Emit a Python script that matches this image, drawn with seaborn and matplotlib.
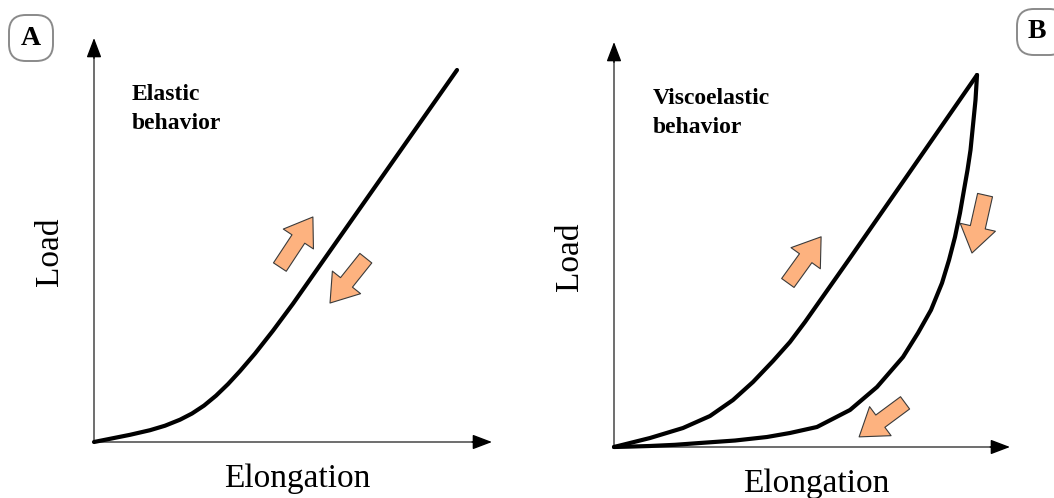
import numpy as np
import pandas as pd
import seaborn as sns
import matplotlib
matplotlib.use("Agg")
import matplotlib.pyplot as plt
from matplotlib.patches import FancyArrowPatch, FancyBboxPatch

# ---- curve data (elongation, load) in arbitrary units 0..100 ----
elastic_x = [0, 9.05, 14.07, 17.84, 21.61, 24.62, 27.64, 30.65, 33.67, 36.68, 40.45, 44.97, 50.00, 70.60, 91.21]
elastic_y = [0, 1.78, 2.92, 4.03, 5.52, 7.05, 9.01, 11.46, 14.33, 17.55, 21.88, 27.55, 34.23, 63.14, 92.08]

loading_x = [0, 9.09, 17.42, 24.24, 30.05, 35.10, 40.15, 44.44, 48.23, 59.60, 73.99, 91.67]
loading_y = [0, 2.22, 4.69, 7.65, 11.60, 16.05, 21.23, 25.93, 30.86, 46.67, 66.91, 91.85]

unloading_x = [91.67, 91.29, 90.66, 90.03, 89.27, 88.38, 87.37, 86.11, 84.60, 82.83, 80.05, 76.77,
               72.98, 66.41, 59.60, 51.26, 44.44, 38.64, 30.56, 21.72, 15.40, 9.09, 4.04, 0]
unloading_y = [91.85, 85.68, 79.51, 73.33, 68.40, 63.46, 57.78, 51.85, 46.17, 40.49, 33.83, 28.15,
               22.22, 14.81, 9.14, 4.94, 3.46, 2.47, 1.60, 0.99, 0.54, 0.25, 0.10, 0]

# direction arrows: (tail_x, tail_y, tip_x, tip_y)
arrows_a = [(46.7, 43.3, 55.0, 55.7), (68.3, 45.5, 59.3, 34.4)]
arrows_b = [(43.9, 40.5, 52.3, 51.9), (93.7, 62.2, 90.4, 47.9), (73.5, 10.9, 61.9, 2.5)]

panel_titles = ["Elastic", "Viscoelastic"]
panel_letters = ["A", "B"]
x_label = "Elongation"
y_label = "Load"

sns.set_theme(style="white")
plt.rcParams["font.family"] = ["Liberation Serif", "DejaVu Serif"]
plt.rcParams["text.color"] = "black"

W, H = 1054, 498
fig = plt.figure(figsize=(W / 100, H / 100), dpi=100)


def frac_rect(left, top, right, bottom):
    """pixel box (top-left origin) -> figure fraction [l, b, w, h]"""
    return [left / W, 1 - bottom / H, (right - left) / W, (bottom - top) / H]


ax_a = fig.add_axes(frac_rect(94, 38, 492, 442))
ax_b = fig.add_axes(frac_rect(614, 42, 1010, 447))

ARROW_FILL = "#FDB27F"
ARROW_EDGE = "#3a3a3a"


def setup_axes(ax):
    ax.set_xlim(0, 100)
    ax.set_ylim(0, 100)
    ax.axis("off")
    # axis shafts (thin grey) with solid black heads
    ax.plot([0, 97], [0, 0], color="#555555", lw=1.2, clip_on=False, solid_capstyle="butt")
    ax.plot([0, 0], [0, 97], color="#555555", lw=1.2, clip_on=False, solid_capstyle="butt")
    for end, start in [((100, 0), (95, 0)), ((0, 100), (0, 95))]:
        ax.annotate("", xy=end, xytext=start, xycoords="data",
                    annotation_clip=False,
                    arrowprops=dict(arrowstyle="-|>,head_length=1.0,head_width=0.38",
                                    color="black", lw=1.0, shrinkA=0, shrinkB=0))
    ax.text(-11.1, 47, y_label, rotation=90, ha="center", va="center",
            fontsize=24, clip_on=False)
    ax.text(51.0, -11.2, x_label, ha="center", va="baseline",
            fontsize=24, clip_on=False)


def add_arrows(ax, arrows):
    for tx, ty, hx, hy in arrows:
        p = FancyArrowPatch((tx, ty), (hx, hy),
                            arrowstyle="simple,head_length=19,head_width=26,tail_width=11",
                            mutation_scale=1, shrinkA=0, shrinkB=0,
                            facecolor=ARROW_FILL, edgecolor=ARROW_EDGE, lw=0.8,
                            clip_on=False, zorder=5)
        ax.add_patch(p)


# Panel A: elastic
setup_axes(ax_a)
df_a = pd.DataFrame({"x": elastic_x, "y": elastic_y})
sns.lineplot(data=df_a, x="x", y="y", sort=False, estimator=None, color="black",
             lw=3.0, ax=ax_a, solid_capstyle="round", solid_joinstyle="round")
ax_a.lines[-1].set_clip_on(False)
add_arrows(ax_a, arrows_a)
ax_a.text(9.5, 84.7, panel_titles[0], fontsize=17, fontweight="bold", ha="left", va="baseline")
ax_a.text(9.5, 77.5, "behavior", fontsize=17, fontweight="bold", ha="left", va="baseline")

# Panel B: viscoelastic (loading + unloading)
setup_axes(ax_b)
df_b = pd.concat([
    pd.DataFrame({"x": loading_x, "y": loading_y, "phase": "loading"}),
    pd.DataFrame({"x": unloading_x, "y": unloading_y, "phase": "unloading"}),
])
for phase, grp in df_b.groupby("phase"):
    sns.lineplot(data=grp, x="x", y="y", sort=False, estimator=None, color="black",
                 lw=3.0, ax=ax_b, solid_capstyle="round", solid_joinstyle="round")
    ax_b.lines[-1].set_clip_on(False)
add_arrows(ax_b, arrows_b)
ax_b.text(9.8, 84.7, panel_titles[1], fontsize=17, fontweight="bold", ha="left", va="baseline")
ax_b.text(9.8, 77.5, "behavior", fontsize=17, fontweight="bold", ha="left", va="baseline")
for ax in (ax_a, ax_b):
    ax.set_xlabel("")
    ax.set_ylabel("")

# Panel letter boxes
for letter, (l, t, r, b) in zip(panel_letters, [(9, 15, 53, 61), (1017, 9, 1066, 55)]):
    rect = frac_rect(l, t, r, b)
    box = FancyBboxPatch((rect[0], rect[1]), rect[2], rect[3],
                         boxstyle="round,pad=0,rounding_size=0.016",
                         transform=fig.transFigure, facecolor="white",
                         edgecolor="#8a8a8a", lw=1.4, mutation_aspect=W / H)
    fig.patches.append(box)
fig.text(31 / W, 1 - 38 / H, panel_letters[0], fontsize=20, fontweight="bold",
         ha="center", va="center")
fig.text(1037 / W, 1 - 32 / H, panel_letters[1], fontsize=20, fontweight="bold",
         ha="center", va="center")

fig.savefig("out.png", dpi=100, facecolor="white")
